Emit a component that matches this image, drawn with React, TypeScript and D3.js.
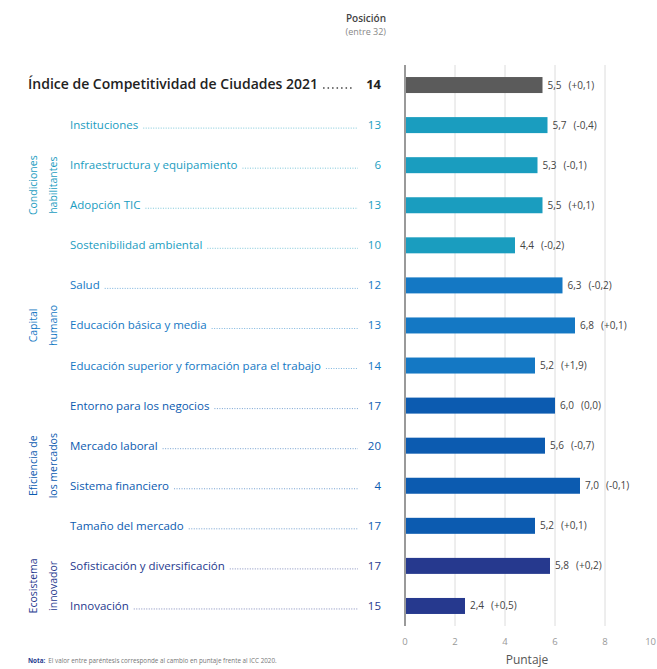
import * as d3 from 'd3';
import { useEffect, useRef } from 'react';

// Rows of the chart, top to bottom
const categories = [
  'Índice de Competitividad de Ciudades 2021',
  'Instituciones',
  'Infraestructura y equipamiento',
  'Adopción TIC',
  'Sostenibilidad ambiental',
  'Salud',
  'Educación básica y media',
  'Educación superior y formación para el trabajo',
  'Entorno para los negocios',
  'Mercado laboral',
  'Sistema financiero',
  'Tamaño del mercado',
  'Sofisticación y diversificación',
  'Innovación',
];
const positions = [14, 13, 6, 13, 10, 12, 13, 14, 17, 20, 4, 17, 17, 15];
const scores = [5.5, 5.7, 5.3, 5.5, 4.4, 6.3, 6.8, 5.2, 6.0, 5.6, 7.0, 5.2, 5.8, 2.4];
const changes = [0.1, -0.4, -0.1, 0.1, -0.2, -0.2, 0.1, 1.9, 0.0, -0.7, -0.1, 0.1, 0.2, 0.5];
const rowGroup = ['total', 'cond', 'cond', 'cond', 'cond', 'cap', 'cap', 'cap', 'efi', 'efi', 'efi', 'efi', 'eco', 'eco'];

const groupKeys = ['cond', 'cap', 'efi', 'eco'];
const groupLines = [
  ['Condiciones', 'habilitantes'],
  ['Capital', 'humano'],
  ['Eficiencia de', 'los mercados'],
  ['Ecosistema', 'innovador'],
];
const xTicks = [0, 2, 4, 6, 8, 10];

const colors = {
  total: '#5b5b5b',
  cond: '#1a9dbf',
  cap: '#1478c4',
  efi: '#0c5bb0',
  eco: '#26398e',
};

const fmt = (v) => v.toFixed(1).replace('.', ',');
const fmtChange = (v) => (v > 0 ? '+' : v < 0 ? '-' : '') + fmt(Math.abs(v));

export default function App() {
  const svgRef = useRef(null);
  const width = 657;
  const height = 669;

  useEffect(() => {
    const svg = d3.select(svgRef.current);
    svg.selectAll('*').remove();
    svg.attr('font-family', '"Open Sans", Roboto, sans-serif');

    const x = d3.scaleLinear().domain([0, 10]).range([405, 655]);
    const y = d3.scalePoint().domain(categories).range([65, 626]).padding(0.5);
    const barH = 16;
    const top = 65;
    const bottom = 626;

    // header
    svg.append('text').attr('x', 386).attr('y', 22).attr('text-anchor', 'end')
      .attr('font-size', 10).attr('font-weight', 600).attr('fill', '#444').text('Posición');
    svg.append('text').attr('x', 386).attr('y', 35).attr('text-anchor', 'end')
      .attr('font-size', 9).attr('fill', '#888').text('(entre 32)');

    // grid
    svg.append('g').selectAll('line').data([2, 4, 6, 8]).join('line')
      .attr('x1', (d) => x(d)).attr('x2', (d) => x(d))
      .attr('y1', top).attr('y2', bottom)
      .attr('stroke', '#dcdcdc').attr('stroke-width', 1);

    // bars
    svg.append('g').selectAll('rect').data(categories).join('rect')
      .attr('x', x(0))
      .attr('y', (d) => y(d) - barH / 2)
      .attr('width', (d, i) => x(scores[i]) - x(0))
      .attr('height', barH)
      .attr('fill', (d, i) => colors[rowGroup[i]]);

    // axis line
    svg.append('line').attr('x1', x(0)).attr('x2', x(0)).attr('y1', top).attr('y2', bottom)
      .attr('stroke', '#9a9a9a').attr('stroke-width', 2);

    // value labels
    const vl = svg.append('g').selectAll('text').data(categories).join('text')
      .attr('x', (d, i) => x(scores[i]) + 5)
      .attr('y', (d) => y(d) + 3.5)
      .attr('font-size', 10)
      .attr('fill', '#444');
    vl.append('tspan').text((d, i) => fmt(scores[i]));
    vl.append('tspan').attr('dx', 7).text((d, i) => `(${fmtChange(changes[i])})`);

    // category labels
    const labels = svg.append('g');
    categories.forEach((c, i) => {
      const isTotal = rowGroup[i] === 'total';
      const lx = isTotal ? 28 : 70;
      const t = labels.append('text')
        .attr('x', lx)
        .attr('y', y(c) + 4)
        .attr('font-size', isTotal ? 14 : 11.5)
        .attr('font-weight', isTotal ? 600 : 400)
        .attr('fill', isTotal ? '#222' : colors[rowGroup[i]])
        .text(c);
      let w = t.node().getComputedTextLength();
      const maxW = isTotal ? 305 : 278;
      if (w > maxW) {
        t.attr('textLength', maxW).attr('lengthAdjust', 'spacingAndGlyphs');
        w = maxW;
      }
      labels.append('line')
        .attr('x1', lx + w + 5).attr('x2', isTotal ? 352 : 358)
        .attr('y1', y(c) + 3).attr('y2', y(c) + 3)
        .attr('stroke', isTotal ? '#444' : colors[rowGroup[i]])
        .attr('stroke-width', isTotal ? 1.5 : 0.8)
        .attr('stroke-dasharray', isTotal ? '1.5,3' : '1,1.5')
        .attr('opacity', isTotal ? 1 : 0.7);
      labels.append('text')
        .attr('x', 381)
        .attr('y', y(c) + 4)
        .attr('text-anchor', 'end')
        .attr('font-size', isTotal ? 13 : 11.5)
        .attr('font-weight', isTotal ? 700 : 400)
        .attr('fill', isTotal ? '#222' : colors[rowGroup[i]])
        .text(positions[i]);
    });

    // group labels (rotated)
    groupKeys.forEach((g, gi) => {
      const rows = categories.filter((c, i) => rowGroup[i] === g);
      const cy = (y(rows[0]) + y(rows[rows.length - 1])) / 2;
      groupLines[gi].forEach((line, li) => {
        const cx = li === 0 ? 37 : 57;
        svg.append('text')
          .attr('transform', `translate(${cx},${cy}) rotate(-90)`)
          .attr('text-anchor', 'middle')
          .attr('font-size', 10.5)
          .attr('fill', colors[g])
          .text(line);
      });
    });

    // x tick labels
    svg.append('g').selectAll('text').data(xTicks).join('text')
      .attr('x', (d) => (d === 10 ? width - 1 : x(d)))
      .attr('y', 645)
      .attr('text-anchor', (d) => (d === 10 ? 'end' : 'middle'))
      .attr('font-size', 9.5)
      .attr('fill', '#999')
      .text((d) => d);

    svg.append('text').attr('x', 527).attr('y', 664).attr('text-anchor', 'middle')
      .attr('font-size', 12).attr('fill', '#555').text('Puntaje');

    // note
    const note = svg.append('text').attr('x', 28).attr('y', 663).attr('font-size', 6.3).attr('fill', '#777');
    note.append('tspan').attr('font-weight', 700).attr('fill', '#26398e').text('Nota:');
    note.append('tspan').attr('dx', 3)
      .text('El valor entre paréntesis corresponde al cambio en puntaje frente al ICC 2020.');
  }, []);

  return (
    <svg
      ref={svgRef}
      width={width}
      height={height}
      viewBox={`0 0 ${width} ${height}`}
      style={{ position: 'absolute', left: 0, top: 0, background: '#fff' }}
    />
  );
}
